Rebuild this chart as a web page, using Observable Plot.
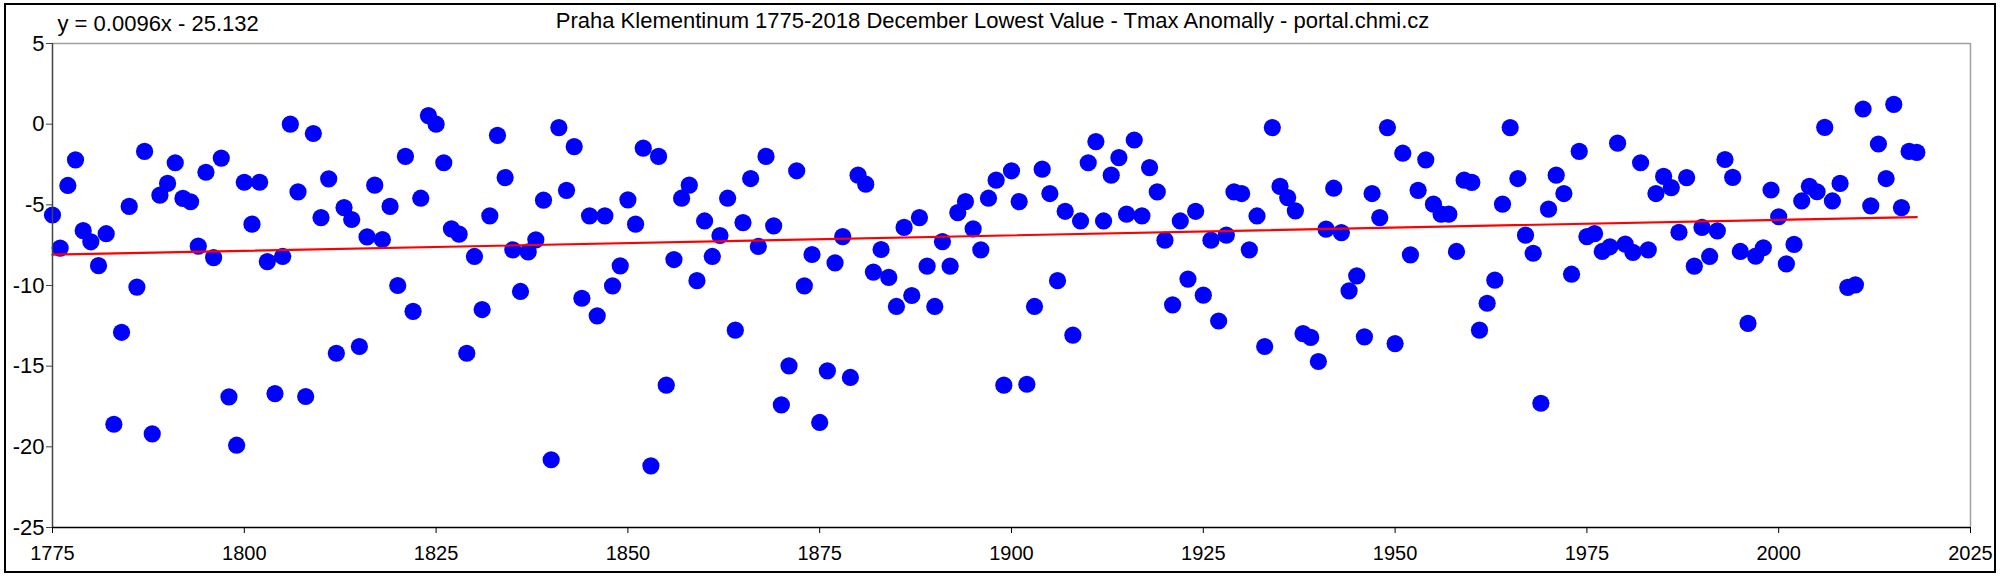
<!DOCTYPE html>
<html>
<head>
<meta charset="utf-8">
<script src="https://cdn.jsdelivr.net/npm/d3@7"></script>
<script src="https://cdn.jsdelivr.net/npm/@observablehq/plot@0.6"></script>
<style>
  body { margin: 0; background: #fff; }
  #wrap { position: relative; width: 2000px; height: 577px; overflow: hidden; }
  #frame { position: absolute; left: 4px; top: 3px; width: 1992px; height: 570px; border: 2px solid #000; box-sizing: border-box; pointer-events: none; }
</style>
</head>
<body>
<div id="wrap"><div id="frame"></div></div>
<script>
// ---- data ----
const title = "Praha Klementinum 1775-2018 December Lowest Value - Tmax Anomally - portal.chmi.cz";
const equationLabel = "y = 0.0096x - 25.132";
const trendSlope = 0.0096;
const trendIntercept = -25.132;
const firstYear = 1775;
const values = [
  -5.63, -7.68, -3.80, -2.21, -6.60, -7.29, -8.77, -6.79, -18.6, -12.9,   // 1775-1784
  -5.10, -10.1, -1.69, -19.2, -4.40, -3.67, -2.39, -4.60, -4.81, -7.56,   // 1785-1794
  -2.98, -8.27, -2.10, -16.9, -19.9, -3.60, -6.20, -3.60, -8.52, -16.7,   // 1795-1804
  -8.20, 0.00, -4.20, -16.88, -0.58, -5.79, -3.39, -14.2, -5.17, -5.91,   // 1805-1814
  -13.78, -6.99, -3.78, -7.15, -5.10, -10.0, -2.00, -11.6, -4.59, 0.53,   // 1815-1824
  0.00, -2.39, -6.49, -6.82, -14.2, -8.20, -11.49, -5.68, -0.69, -3.31,   // 1825-1834
  -7.79, -10.37, -7.92, -7.17, -4.71, -20.8, -0.21, -4.10, -1.39, -10.79, // 1835-1844
  -5.68, -11.88, -5.68, -10.02, -8.78, -4.69, -6.20, -1.49, -21.18, -2.00, // 1845-1854
  -16.18, -8.39, -4.59, -3.78, -9.70, -6.00, -8.20, -6.90, -4.59, -12.77, // 1855-1864
  -6.10, -3.37, -7.58, -2.00, -6.30, -17.4, -14.98, -2.89, -10.02, -8.08, // 1865-1874
  -18.49, -15.29, -8.60, -6.97, -15.7, -3.16, -3.72, -9.17, -7.77, -9.50, // 1875-1884
  -11.3, -6.40, -10.62, -5.79, -8.80, -11.3, -7.28, -8.80, -5.48, -4.80, // 1885-1894
  -6.49, -7.79, -4.59, -3.47, -16.18, -2.89, -4.80, -16.12, -11.3, -2.79, // 1895-1904
  -4.30, -9.70, -5.40, -13.08, -6.00, -2.39, -1.08, -6.00, -3.16, -2.07,  // 1905-1914
  -5.58, -0.98, -5.68, -2.69, -4.20, -7.19, -11.2, -6.00, -9.60, -5.40,   // 1915-1924
  -10.6, -7.19, -12.2, -6.88, -4.20, -4.30, -7.79, -5.69, -13.78, -0.21,  // 1925-1934
  -3.86, -4.55, -5.37, -12.98, -13.22, -14.71, -6.51, -3.97, -6.72, -10.33, // 1935-1944
  -9.40, -13.18, -4.30, -5.79, -0.21, -13.6, -1.80, -8.10, -4.10, -2.21,  // 1945-1954
  -4.96, -5.58, -5.58, -7.89, -3.47, -3.61, -12.77, -11.1, -9.67, -4.96,  // 1955-1964
  -0.21, -3.37, -6.88, -8.00, -17.3, -5.27, -3.16, -4.30, -9.30, -1.69,   // 1965-1974
  -6.97, -6.78, -7.89, -7.60, -1.18, -7.44, -7.95, -2.39, -7.79, -4.30,   // 1975-1984
  -3.24, -3.93, -6.70, -3.31, -8.80, -6.40, -8.20, -6.61, -2.19, -3.30,   // 1985-1994
  -7.89, -12.35, -8.18, -7.66, -4.08, -5.74, -8.66, -7.45, -4.76, -3.85,  // 1995-2004
  -4.19, -0.20, -4.76, -3.67, -10.12, -9.96, 0.94, -5.06, -1.23, -3.37,   // 2005-2014
  1.23, -5.17, -1.69, -1.75                                               // 2015-2018
];
const xDomain = [1775, 2025];
const xTicks = [1775, 1800, 1825, 1850, 1875, 1900, 1925, 1950, 1975, 2000, 2025];
const yDomain = [-25, 5];
const yTicks = [-25, -20, -15, -10, -5, 0, 5];

// ---- table built from the arrays ----
const points = values.map((v, i) => ({year: firstYear + i, value: v}));
const lastYear = firstYear + values.length - 1;
const trend = [firstYear, lastYear].map(yr => ({year: yr, value: trendSlope * yr + trendIntercept}));

const font = "'Liberation Sans', Arial, sans-serif";

const chart = Plot.plot({
  width: 2000,
  height: 577,
  marginLeft: 52,
  marginRight: 30,
  marginTop: 43,
  marginBottom: 50,
  style: {fontFamily: font, fontSize: "20px", color: "#000", background: "transparent", overflow: "visible"},
  x: {domain: xDomain},
  y: {domain: yDomain},
  marks: [
    Plot.ruleY([yDomain[1]], {stroke: "#a0a0a0", strokeWidth: 1.5}),
    Plot.ruleX([xDomain[1]], {stroke: "#a0a0a0", strokeWidth: 1.5}),
    Plot.dot(points, {x: "year", y: "value", r: 8.6, fill: "#0000ff"}),
    Plot.line(trend, {x: "year", y: "value", stroke: "#ff0000", strokeWidth: 2.2}),
    Plot.ruleX([xDomain[0]], {stroke: "#444", strokeWidth: 1.5}),
    Plot.ruleY([yDomain[0]], {stroke: "#000", strokeWidth: 1.5}),
    Plot.axisX({ticks: xTicks, tickFormat: d => String(d), tickSize: 6, tickPadding: 12, label: null, stroke: "#000", fontSize: 20}),
    Plot.axisY({ticks: yTicks, tickFormat: d => String(d), tickSize: 6, tickPadding: 2, label: null, stroke: "#444", fontSize: 22}),
    Plot.text([title], {frameAnchor: "top", dx: -19, dy: -16, lineAnchor: "bottom", fontSize: 22, fill: "#000"}),
    Plot.text([equationLabel], {frameAnchor: "top-left", textAnchor: "start", dx: 5, dy: -13, lineAnchor: "bottom", fontSize: 22, fill: "#000"})
  ]
});
document.getElementById("wrap").prepend(chart);
</script>
</body>
</html>
